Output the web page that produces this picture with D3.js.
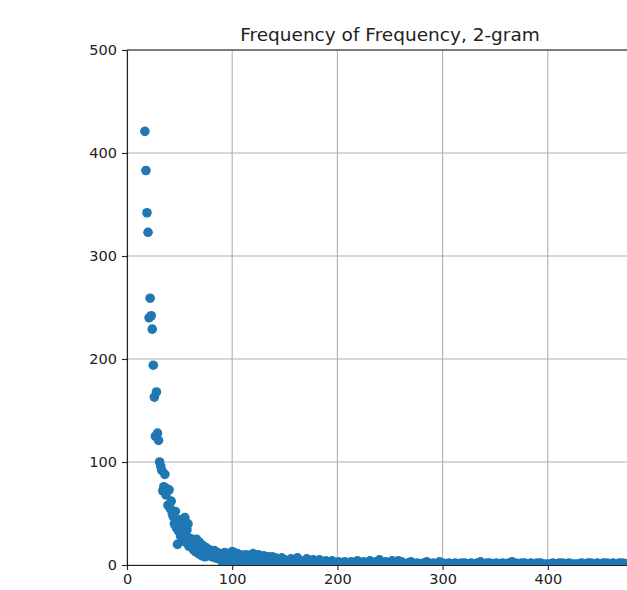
<!DOCTYPE html>
<html>
<head>
<meta charset="utf-8">
<script src="https://cdn.jsdelivr.net/npm/d3@7"></script>
<style>
  body { margin: 0; background: #fff; }
  text { font-family: 'DejaVu Sans', sans-serif; fill: #222; }
</style>
</head>
<body>
<div id="svgDiv"></div>
<script>
// frequency (x) and number of 2-grams with that frequency (y)
const freq = [
  17,18,19,20,21,22,23,24,25,26,27,28,29,30,31,32,33,34,35,36,37,38,39,40,
  41,42,43,44,45,46,47,48,49,50,51,52,53,54,55,56,57,58,59,60,61,62,63,64,
  65,66,67,68,69,70,71,72,73,74,75,76,77,78,79,80,81,82,83,84,85,86,87,88,
  89,90,91,92,93,94,95,96,97,98,99,100,101,102,103,104,105,106,107,108,109,110,
  111,112,113,114,115,116,117,118,119,120,121,122,123,124,125,126,127,128,129,130,
  131,132,133,134,135,136,137,138,139,140,141,142,143,144,145,146,147,148,149,
  150,153,156,159,162,165,168,171,174,177,180,183,186,189,192,195,198,
  201,204,207,210,213,216,219,222,225,228,231,234,237,240,243,246,249,
  252,255,258,261,264,267,270,273,276,279,282,285,288,291,294,297,
  300,303,306,309,312,315,318,321,324,327,330,333,336,339,342,345,348,
  351,354,357,360,363,366,369,372,375,378,381,384,387,390,393,396,399,
  402,405,408,411,414,417,420,423,426,429,432,435,438,441,444,447,450,
  453,456,459,462,465,468,471,474,477,480,483,486,489,492,495,498
]
const count = [
  421,383,342,323,240,259,242,229,194,163,125,168,128,121,100,96,92,72,76,88,68,74,58,73,
  55,62,50,47,40,52,36,20,33,44,28,38,25,30,46,22,34,40,18,26,20,24,15,22,
  13,25,18,11,22,16,9,19,14,8,17,12,10,15,9,13,8,11,14,7,10,12,6,9,
  11,5,2,8,12,6,10,4,9,11,3,13,7,12,5,9,11,3,8,10,6,2,
  9,7,10,4,8,6,2,10,5,11,3,9,6,2,10,4,7,3,5,9,
  2,6,4,8,1,5,3,8,2,4,7,1,5,3,4,2,7,1,3,
  5,2,6,3,7,4,2,6,3,5,1,5,3,4,2,4,1,
  3,2,3,1,3,2,4,1,3,2,4,1,3,5,2,3,1,
  4,2,4,3,1,2,3,1,2,1,2,3,1,2,1,3,
  2,1,2,1,2,1,2,2,1,2,1,2,3,1,2,2,1,
  2,1,2,1,2,3,2,1,2,2,1,2,1,2,2,1,1,
  1,2,1,2,2,1,2,1,1,1,2,1,2,2,1,2,1,
  2,2,1,2,1,2,2,1,2,1,2,1,2,1,2,1
]
// x = 500 sits on the right spine, outside the window, so it gets no label
const xTicks = [0, 100, 200, 300, 400]
const yTicks = [0, 100, 200, 300, 400, 500]
const title = 'Frequency of Frequency, 2-gram'

const points = freq.map((f, i) => ({ f: f, c: count[i] }))

var width = 627,
    height = 590,
    margin = { top: 50, left: 127, right: -26, bottom: 25 };

var svg = d3.select('#svgDiv')
  .append('svg')
    .attr('width', width)
    .attr('height', height);

var x = d3.scaleLinear()
  .domain([0, 500])
  .range([margin.left, width - margin.right]);

var y = d3.scaleLinear()
  .domain([0, 500])
  .range([height - margin.bottom, margin.top]);

// clip markers to the axes box like matplotlib does
svg.append('clipPath')
    .attr('id', 'plotClip')
  .append('rect')
    .attr('x', x(0))
    .attr('y', y(500))
    .attr('width', x(500) - x(0))
    .attr('height', y(0) - y(500));

// grid lines
svg.append('g')
  .selectAll('line')
  .data(xTicks)
  .join('line')
    .attr('x1', d => x(d)).attr('x2', d => x(d))
    .attr('y1', y(0)).attr('y2', y(500))
    .style('stroke', '#b0b0b0')
    .style('stroke-width', 1.1);

svg.append('g')
  .selectAll('line')
  .data(yTicks)
  .join('line')
    .attr('x1', x(0)).attr('x2', x(500))
    .attr('y1', d => y(d)).attr('y2', d => y(d))
    .style('stroke', '#b0b0b0')
    .style('stroke-width', 1.1);

// scatter points
svg.append('g')
    .attr('clip-path', 'url(#plotClip)')
  .selectAll('circle')
  .data(points)
  .join('circle')
    .attr('cx', d => x(d.f))
    .attr('cy', d => y(d.c))
    .attr('r', 4.8)
    .style('fill', '#1f77b4');

// axes
var xAxis = svg.append('g')
  .attr('transform', 'translate(0,' + y(0) + ')')
  .call(d3.axisBottom(x).tickValues(xTicks).tickSize(5).tickPadding(4).tickSizeOuter(0));

var yAxis = svg.append('g')
  .attr('transform', 'translate(' + x(0) + ',0)')
  .call(d3.axisLeft(y).tickValues(yTicks).tickSize(5).tickPadding(5).tickSizeOuter(0));

[xAxis, yAxis].forEach(function(a){
  a.select('.domain').style('stroke', '#222').style('stroke-width', 1.1);
  a.selectAll('.tick line').style('stroke', '#222').style('stroke-width', 1.1);
  a.selectAll('.tick text')
    .style('font-family', "'DejaVu Sans', sans-serif")
    .style('font-size', '14.5px')
    .style('fill', '#222');
});

// top spine
svg.append('line')
    .attr('x1', x(0)).attr('x2', x(500))
    .attr('y1', y(500)).attr('y2', y(500))
    .style('stroke', '#222')
    .style('stroke-width', 1.1);

// title
svg.append('text')
    .attr('x', (x(0) + x(500)) / 2)
    .attr('y', y(500) - 9)
    .attr('text-anchor', 'middle')
    .style('font-size', '18.5px')
    .text(title);
</script>
</body>
</html>
